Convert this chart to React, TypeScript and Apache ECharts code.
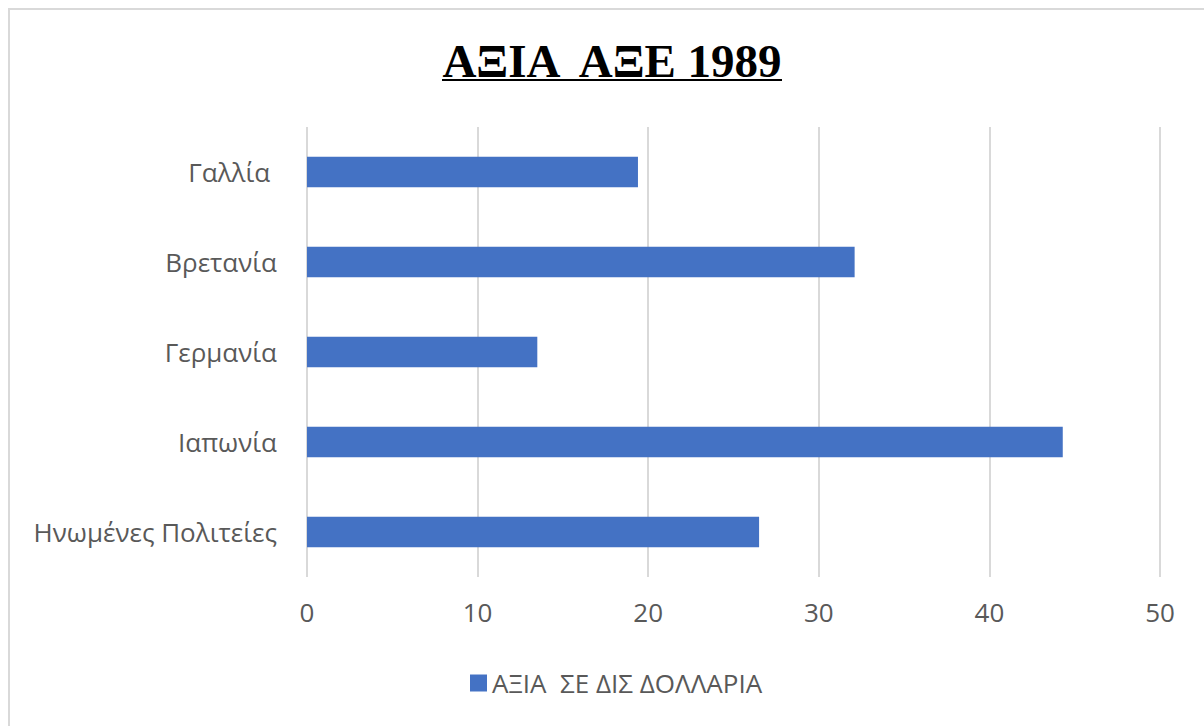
import React, { useEffect, useRef } from "react";
import * as echarts from "echarts";

const categories = ["Ηνωμένες Πολιτείες", "Ιαπωνία", "Γερμανία", "Βρετανία", "Γαλλία "];
const values = [26.5, 44.3, 13.5, 32.1, 19.4];
const seriesName = "ΑΞΙΑ  ΣΕ ΔΙΣ ΔΟΛΛΑΡΙΑ";
const titleText = "ΑΞΙΑ  ΑΞΕ 1989";

export default function App() {
  const ref = useRef<HTMLDivElement>(null);
  useEffect(() => {
    if (!ref.current) return;
    const chart = echarts.init(ref.current, null, { renderer: "svg" });
    const font = "'Open Sans', 'Noto Sans', sans-serif";
    chart.setOption({
      animation: false,
      backgroundColor: "#ffffff",
      graphic: [
        {
          type: "rect",
          shape: { x: 9, y: 9, width: 1300, height: 800 },
          style: { fill: "none", stroke: "#d9d9d9", lineWidth: 2 },
          silent: true,
        },
        {
          type: "text",
          x: 612,
          y: 61,
          style: {
            text: titleText,
            font: "bold 47px 'Liberation Serif', 'Times New Roman', serif",
            fill: "#000000",
            align: "center",
            verticalAlign: "middle",
          },
        },
        {
          type: "line",
          shape: { x1: 442, y1: 80, x2: 782, y2: 80 },
          style: { stroke: "#000000", lineWidth: 2 },
        },
      ],
      legend: {
        show: true,
        top: 665,
        left: 465,
        itemWidth: 17,
        itemHeight: 17,
        itemGap: 6,
        icon: "rect",
        textStyle: { fontSize: 26, color: "#595959", fontFamily: font },
        data: [seriesName],
      },
      grid: { left: 307, right: 44, top: 127, bottom: 149, containLabel: false },
      xAxis: {
        type: "value",
        min: 0,
        max: 50,
        interval: 10,
        axisLine: { show: false },
        axisTick: { show: false },
        axisLabel: { fontSize: 26, color: "#595959", fontFamily: font, margin: 22 },
        splitLine: { lineStyle: { color: "#d9d9d9", width: 2 } },
      },
      yAxis: {
        type: "category",
        data: categories,
        axisLine: { show: false },
        axisTick: { show: false },
        axisLabel: { fontSize: 26, color: "#595959", fontFamily: font, margin: 30 },
      },
      series: [
        {
          name: seriesName,
          type: "bar",
          data: values,
          barWidth: "34%",
          itemStyle: { color: "#4472c4" },
        },
      ],
    });
    return () => chart.dispose();
  }, []);
  return (
    <div
      ref={ref}
      style={{ position: "fixed", left: 0, top: 0, width: 1204, height: 726 }}
    />
  );
}
